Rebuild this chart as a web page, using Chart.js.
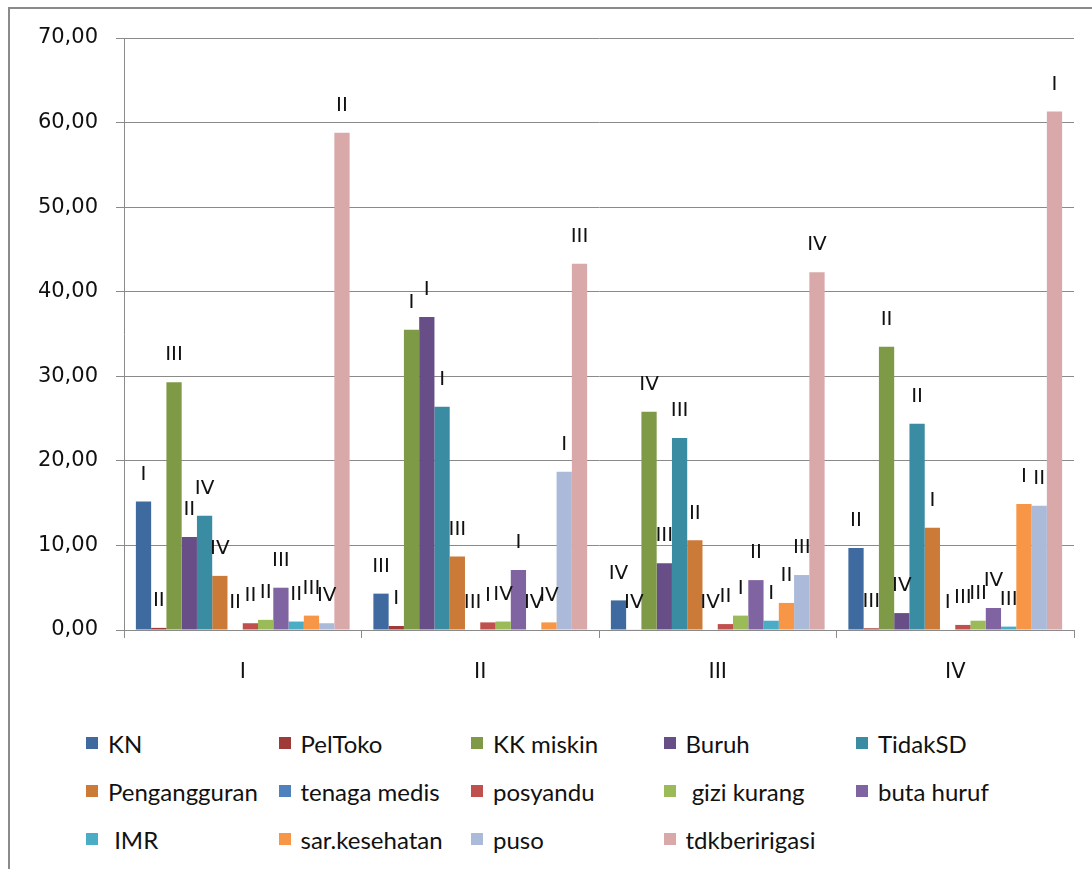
<!DOCTYPE html>
<html>
<head>
<meta charset="utf-8">
<script src="https://cdn.jsdelivr.net/npm/chart.js@4/dist/chart.umd.min.js"></script>
<style>
  body { margin: 0; background: #fff; width: 1092px; height: 869px; overflow: hidden; position: relative; }
  #frame { position: absolute; left: 8px; top: 7px; width: 1200px; height: 1000px; border-left: 2px solid #8a8a8a; border-top: 2px solid #8a8a8a; }
  #chart { position: absolute; left: 0; top: 0; }
  #legend { position: absolute; left: 86px; top: 719px; display: grid; grid-template-columns: repeat(5, 192.5px); grid-auto-rows: 48px; font-family: Lato, "Open Sans", sans-serif; font-size: 24px; color: #111; }
  #legend .item { display: flex; align-items: center; white-space: pre; }
  #legend .box { width: 12px; height: 12px; margin-right: 10px; flex: none; }
</style>
</head>
<body>
<div id="frame"></div>
<canvas id="chart" width="1092" height="700"></canvas>
<div id="legend"></div>
<script>
const categories = ["I", "II", "III", "IV"];

const seriesNames = ["KN", "PelToko", "KK miskin", "Buruh", "TidakSD", "Pengangguran", "tenaga medis",
  "posyandu", " gizi kurang", "buta huruf", " IMR", "sar.kesehatan", "puso", "tdkberirigasi"];

const kn = [15.2, 4.3, 3.5, 9.7];
const pelToko = [0.25, 0.47, 0.05, 0.2];
const kkMiskin = [29.3, 35.5, 25.8, 33.5];
const buruh = [11.0, 37.0, 7.9, 2.0];
const tidakSD = [13.5, 26.4, 22.7, 24.4];
const pengangguran = [6.4, 8.7, 10.6, 12.1];
const tenagaMedis = [0, 0, 0, 0];
const posyandu = [0.8, 0.9, 0.7, 0.6];
const giziKurang = [1.2, 1.0, 1.7, 1.1];
const butaHuruf = [5.0, 7.1, 5.9, 2.6];
const imr = [1.0, 0, 1.1, 0.4];
const sarKesehatan = [1.7, 0.9, 3.2, 14.9];
const puso = [0.8, 18.7, 6.5, 14.7];
const tdkBeririgasi = [58.8, 43.3, 42.3, 61.3];

// rank labels shown above each bar
const rankKN = ["I", "III", "IV", "II"];
const rankPelToko = ["II", "I", "IV", "III"];
const rankKK = ["III", "I", "IV", "II"];
const rankBuruh = ["II", "I", "III", "IV"];
const rankTidakSD = ["IV", "I", "III", "II"];
const rankPeng = ["IV", "III", "II", "I"];
const rankTenaga = ["II", "III", "IV", "I"];
const rankPosyandu = ["II", "I", "II", "III"];
const rankGizi = ["II", "IV", "I", "III"];
const rankButa = ["III", "I", "II", "IV"];
const rankIMR = ["II", "IV", "I", "III"];
const rankSar = ["III", "IV", "II", "I"];
const rankPuso = ["IV", "I", "III", "II"];
const rankTdk = ["II", "III", "IV", "I"];

const yTicks = [0, 10, 20, 30, 40, 50, 60, 70];

const values = [kn, pelToko, kkMiskin, buruh, tidakSD, pengangguran, tenagaMedis,
  posyandu, giziKurang, butaHuruf, imr, sarKesehatan, puso, tdkBeririgasi];
const ranks = [rankKN, rankPelToko, rankKK, rankBuruh, rankTidakSD, rankPeng, rankTenaga,
  rankPosyandu, rankGizi, rankButa, rankIMR, rankSar, rankPuso, rankTdk];
const colors = ["#3f6a9f", "#9e3a38", "#7e9a47", "#674e86", "#3a8ca3", "#cc7a38", "#4f81bd",
  "#c0504d", "#9bbb59", "#8064a2", "#4bacc6", "#f79646", "#aabad8", "#d9a9a9"];

const axisFont = "'DejaVu Sans', Verdana, sans-serif";

const datasets = seriesNames.map((name, i) => ({
  label: name,
  data: values[i],
  ranks: ranks[i],
  backgroundColor: colors[i],
  categoryPercentage: 0.9,
  barPercentage: 1.0,
}));

const rankLabels = {
  id: "rankLabels",
  afterDatasetsDraw(chart) {
    const ctx = chart.ctx;
    ctx.save();
    ctx.font = "20px " + axisFont;
    ctx.fillStyle = "#111";
    ctx.textAlign = "center";
    ctx.textBaseline = "middle";
    chart.data.datasets.forEach((ds, i) => {
      chart.getDatasetMeta(i).data.forEach((bar, j) => {
        ctx.fillText(ds.ranks[j], bar.x, bar.y - 27);
      });
    });
    ctx.restore();
  }
};

const chart = new Chart(document.getElementById("chart"), {
  type: "bar",
  data: { labels: categories, datasets: datasets },
  plugins: [rankLabels],
  options: {
    responsive: false,
    animation: false,
    layout: { padding: { left: 10, right: 18, top: 38, bottom: 0 } },
    plugins: { legend: { display: false }, tooltip: { enabled: false } },
    scales: {
      x: {
        grid: { offset: true, drawOnChartArea: false, drawTicks: true, tickLength: 8, color: "#8a8a8a" },
        border: { color: "#8a8a8a" },
        ticks: { font: { family: axisFont, size: 21 }, color: "#111", padding: 22 },
        afterFit(scale) { scale.height = 70; }
      },
      y: {
        min: 0,
        max: 70,
        afterBuildTicks(scale) { scale.ticks = yTicks.map(v => ({ value: v })); },
        grid: { color: "#8a8a8a", tickLength: 8 },
        border: { color: "#8a8a8a" },
        ticks: {
          font: { family: axisFont, size: 21 },
          color: "#111",
          padding: 18,
          callback: v => v.toFixed(2).replace(".", ",")
        },
        afterFit(scale) { scale.width = 114; }
      }
    }
  }
});

const legend = document.getElementById("legend");
chart.data.datasets.forEach(ds => {
  const item = document.createElement("div");
  item.className = "item";
  const box = document.createElement("span");
  box.className = "box";
  box.style.background = ds.backgroundColor;
  const text = document.createElement("span");
  text.textContent = ds.label;
  item.appendChild(box);
  item.appendChild(text);
  legend.appendChild(item);
});
</script>
</body>
</html>
